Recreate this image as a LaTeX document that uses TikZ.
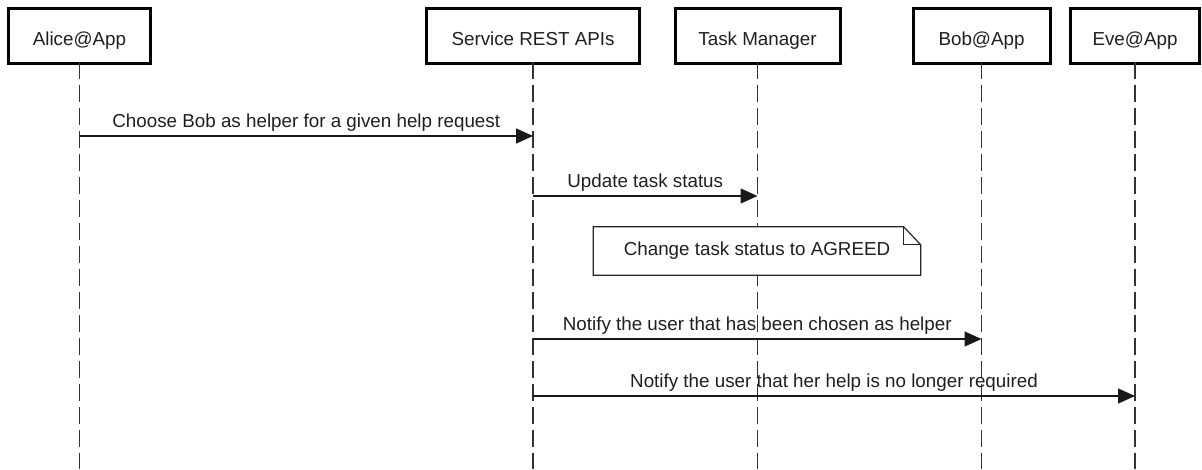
\documentclass[tikz,border=0pt]{standalone}
\usepackage{fontspec}
\setmainfont{Liberation Sans}
\usetikzlibrary{arrows.meta}
\begin{document}
\begin{tikzpicture}[x=1pt,y=-1pt,
  every node/.style={font=\fontsize{18.8}{22}\selectfont, text=black!88},
  actor/.style={draw=black, line width=3pt, fill=white, minimum height=55pt,
    inner sep=0pt, text height=21pt, text depth=2pt},
  lifeline/.style={draw=black!80, line width=1.8pt, dash pattern=on 17pt off 6pt},
  msg/.style={draw=black!90, line width=1.4pt, -{Triangle[length=17pt,width=15pt]}},
  msglabel/.style={anchor=base, yshift=9pt, inner sep=0pt},
  notebox/.style={fill=white, minimum width=327pt, minimum height=48pt, inner sep=0pt},
  noteline/.style={draw=black!85, line width=1.2pt, line join=miter}]
\useasboundingbox (0,0) rectangle (1202,469);

% participants
\node[actor, minimum width=142pt] (alice)   at (79.5,35.5)  {Alice@App};
\node[actor, minimum width=213pt] (service) at (533,35.5)   {Service REST APIs};
\node[actor, minimum width=165pt] (task)    at (757.5,35.5) {Task Manager};
\node[actor, minimum width=137pt] (bob)     at (981.5,35.5) {Bob@App};
\node[actor, minimum width=129pt] (eve)     at (1135,35.5)  {Eve@App};

% lifelines down to the bottom edge
\coordinate (bottom) at (0,469);
\foreach \p in {alice,service,task,bob,eve}
  \draw[lifeline] ([yshift=3pt]\p.south) -- (\p |- bottom);

% message rows
\coordinate (m1) at (0,136);
\coordinate (m2) at (0,196);
\coordinate (m3) at (0,339);
\coordinate (m4) at (0,396);

\draw[msg] (alice |- m1) -- (service |- m1)
  node[msglabel, midway] {Choose Bob as helper for a given help request};
\draw[msg] (service |- m2) -- (task |- m2)
  node[msglabel, midway] {Update task status};

% note on the task manager lifeline
\node[notebox] (note) at (757,251) {Change task status to AGREED};
\draw[noteline] (note.north west) -- ([xshift=-17pt]note.north east)
  -- ([yshift=-18pt]note.north east) -- (note.south east)
  -- (note.south west) -- cycle;
\draw[noteline] ([xshift=-17pt]note.north east)
  -- ([xshift=-17pt,yshift=-18pt]note.north east)
  -- ([yshift=-18pt]note.north east);

\draw[msg] (service |- m3) -- (bob |- m3)
  node[msglabel, midway] {Notify the user that has been chosen as helper};
\draw[msg] (service |- m4) -- (eve |- m4)
  node[msglabel, midway] {Notify the user that her help is no longer required};
\end{tikzpicture}
\end{document}
